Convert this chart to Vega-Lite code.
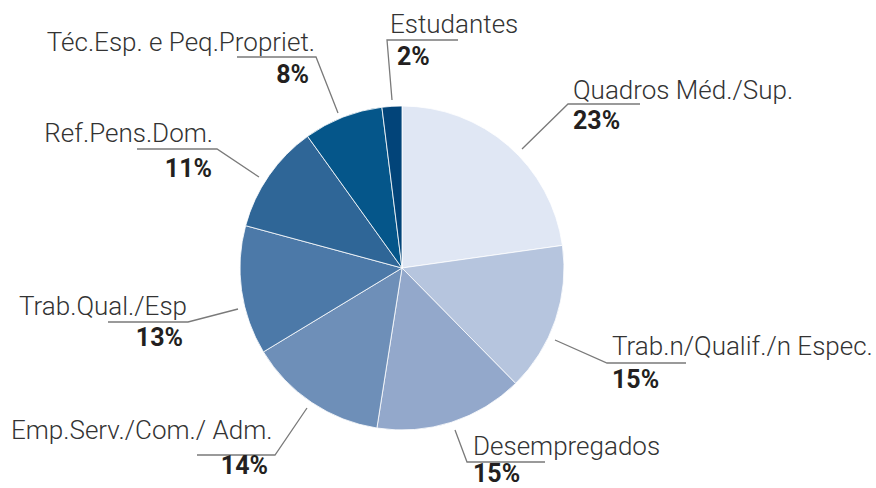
{
  "$schema": "https://vega.github.io/schema/vega-lite/v6.json",
  "width": 804,
  "height": 440,
  "autosize": "none",
  "padding": {"left": 0, "top": 48, "right": 72, "bottom": 0},
  "background": "white",
  "config": {"view": {"stroke": null}},
  "datasets": {
    "slices": [
      {"category": "Quadros Méd./Sup.", "pct": 23, "order": 1},
      {"category": "Trab.n/Qualif./n Espec.", "pct": 15, "order": 2},
      {"category": "Desempregados", "pct": 15, "order": 3},
      {"category": "Emp.Serv./Com./ Adm.", "pct": 14, "order": 4},
      {"category": "Trab.Qual./Esp", "pct": 13, "order": 5},
      {"category": "Ref.Pens.Dom.", "pct": 11, "order": 6},
      {"category": "Téc.Esp. e Peq.Propriet.", "pct": 8, "order": 7},
      {"category": "Estudantes", "pct": 2, "order": 8}
    ],
    "leaders": [
      {"category": "Estudantes", "seq": 1, "x": -10, "y": 168},
      {"category": "Estudantes", "seq": 2, "x": -15, "y": 228},
      {"category": "Estudantes", "seq": 3, "x": 56, "y": 228},
      {"category": "Quadros Méd./Sup.", "seq": 1, "x": 120, "y": 119},
      {"category": "Quadros Méd./Sup.", "seq": 2, "x": 166, "y": 164},
      {"category": "Quadros Méd./Sup.", "seq": 3, "x": 238, "y": 164},
      {"category": "Trab.n/Qualif./n Espec.", "seq": 1, "x": 153, "y": -72},
      {"category": "Trab.n/Qualif./n Espec.", "seq": 2, "x": 205, "y": -95},
      {"category": "Trab.n/Qualif./n Espec.", "seq": 3, "x": 284, "y": -95},
      {"category": "Desempregados", "seq": 1, "x": 53, "y": -162},
      {"category": "Desempregados", "seq": 2, "x": 65, "y": -194},
      {"category": "Desempregados", "seq": 3, "x": 143, "y": -194},
      {"category": "Emp.Serv./Com./ Adm.", "seq": 1, "x": -95, "y": -140},
      {"category": "Emp.Serv./Com./ Adm.", "seq": 2, "x": -127, "y": -187},
      {"category": "Emp.Serv./Com./ Adm.", "seq": 3, "x": -205, "y": -187},
      {"category": "Trab.Qual./Esp", "seq": 1, "x": -164, "y": -41},
      {"category": "Trab.Qual./Esp", "seq": 2, "x": -214, "y": -54},
      {"category": "Trab.Qual./Esp", "seq": 3, "x": -294, "y": -54},
      {"category": "Ref.Pens.Dom.", "seq": 1, "x": -143, "y": 91},
      {"category": "Ref.Pens.Dom.", "seq": 2, "x": -185, "y": 119},
      {"category": "Ref.Pens.Dom.", "seq": 3, "x": -265, "y": 119},
      {"category": "Téc.Esp. e Peq.Propriet.", "seq": 1, "x": -64, "y": 155},
      {"category": "Téc.Esp. e Peq.Propriet.", "seq": 2, "x": -86, "y": 211},
      {"category": "Téc.Esp. e Peq.Propriet.", "seq": 3, "x": -165, "y": 211}
    ],
    "labels": [
      {"category": "Estudantes", "nameAnchor": "start", "pctAnchor": "start", "nx": -12, "ny": 235, "px": -5, "py": 203, "pctText": "2%"},
      {"category": "Quadros Méd./Sup.", "nameAnchor": "start", "pctAnchor": "start", "nx": 171, "ny": 169, "px": 171, "py": 139, "pctText": "23%"},
      {"category": "Trab.n/Qualif./n Espec.", "nameAnchor": "start", "pctAnchor": "start", "nx": 210, "ny": -87, "px": 210, "py": -120, "pctText": "15%"},
      {"category": "Desempregados", "nameAnchor": "start", "pctAnchor": "start", "nx": 71, "ny": -187, "px": 71, "py": -214, "pctText": "15%"},
      {"category": "Emp.Serv./Com./ Adm.", "nameAnchor": "start", "pctAnchor": "end", "nx": -391, "ny": -171, "px": -134, "py": -206, "pctText": "14%"},
      {"category": "Trab.Qual./Esp", "nameAnchor": "end", "pctAnchor": "end", "nx": -215, "ny": -47, "px": -219, "py": -78, "pctText": "13%"},
      {"category": "Ref.Pens.Dom.", "nameAnchor": "end", "pctAnchor": "end", "nx": -189, "ny": 126, "px": -190, "py": 91, "pctText": "11%"},
      {"category": "Téc.Esp. e Peq.Propriet.", "nameAnchor": "end", "pctAnchor": "end", "nx": -87, "ny": 217, "px": -93, "py": 185, "pctText": "8%"}
    ]
  },
  "layer": [
    {
      "data": {"name": "slices"},
      "mark": {"type": "arc", "outerRadius": 162, "stroke": "white", "strokeWidth": 0.8},
      "encoding": {
        "theta": {"field": "pct", "type": "quantitative", "stack": true},
        "order": {"field": "order", "type": "quantitative"},
        "color": {
          "field": "category",
          "type": "nominal",
          "legend": null,
          "scale": {
            "domain": ["Quadros Méd./Sup.", "Trab.n/Qualif./n Espec.", "Desempregados", "Emp.Serv./Com./ Adm.", "Trab.Qual./Esp", "Ref.Pens.Dom.", "Téc.Esp. e Peq.Propriet.", "Estudantes"],
            "range": ["#E0E7F4", "#B6C5DE", "#93A8CB", "#6E8FB8", "#4C79A8", "#2F6697", "#05568A", "#024479"]
          }
        }
      }
    },
    {
      "data": {"name": "leaders"},
      "mark": {"type": "line", "color": "#7a7a7a", "strokeWidth": 1.3},
      "encoding": {
        "x": {"field": "x", "type": "quantitative", "scale": {"domain": [-402, 402]}, "axis": null},
        "y": {"field": "y", "type": "quantitative", "scale": {"domain": [-220, 220]}, "axis": null},
        "detail": {"field": "category"},
        "order": {"field": "seq", "type": "quantitative"}
      }
    },
    {
      "data": {"name": "labels"},
      "transform": [{"filter": "datum.nameAnchor === 'start'"}],
      "mark": {"type": "text", "align": "left", "baseline": "alphabetic", "font": "Roboto", "fontWeight": 300, "fontSize": 26, "color": "#333333"},
      "encoding": {
        "x": {"field": "nx", "type": "quantitative", "scale": {"domain": [-402, 402]}, "axis": null},
        "y": {"field": "ny", "type": "quantitative", "scale": {"domain": [-220, 220]}, "axis": null},
        "text": {"field": "category"}
      }
    },
    {
      "data": {"name": "labels"},
      "transform": [{"filter": "datum.nameAnchor === 'end'"}],
      "mark": {"type": "text", "align": "right", "baseline": "alphabetic", "font": "Roboto", "fontWeight": 300, "fontSize": 26, "color": "#333333"},
      "encoding": {
        "x": {"field": "nx", "type": "quantitative", "scale": {"domain": [-402, 402]}, "axis": null},
        "y": {"field": "ny", "type": "quantitative", "scale": {"domain": [-220, 220]}, "axis": null},
        "text": {"field": "category"}
      }
    },
    {
      "data": {"name": "labels"},
      "transform": [{"filter": "datum.pctAnchor === 'start'"}],
      "mark": {"type": "text", "align": "left", "baseline": "alphabetic", "font": "Roboto", "fontWeight": "bold", "fontSize": 25, "color": "#231f20"},
      "encoding": {
        "x": {"field": "px", "type": "quantitative", "scale": {"domain": [-402, 402]}, "axis": null},
        "y": {"field": "py", "type": "quantitative", "scale": {"domain": [-220, 220]}, "axis": null},
        "text": {"field": "pctText"}
      }
    },
    {
      "data": {"name": "labels"},
      "transform": [{"filter": "datum.pctAnchor === 'end'"}],
      "mark": {"type": "text", "align": "right", "baseline": "alphabetic", "font": "Roboto", "fontWeight": "bold", "fontSize": 25, "color": "#231f20"},
      "encoding": {
        "x": {"field": "px", "type": "quantitative", "scale": {"domain": [-402, 402]}, "axis": null},
        "y": {"field": "py", "type": "quantitative", "scale": {"domain": [-220, 220]}, "axis": null},
        "text": {"field": "pctText"}
      }
    }
  ]
}
